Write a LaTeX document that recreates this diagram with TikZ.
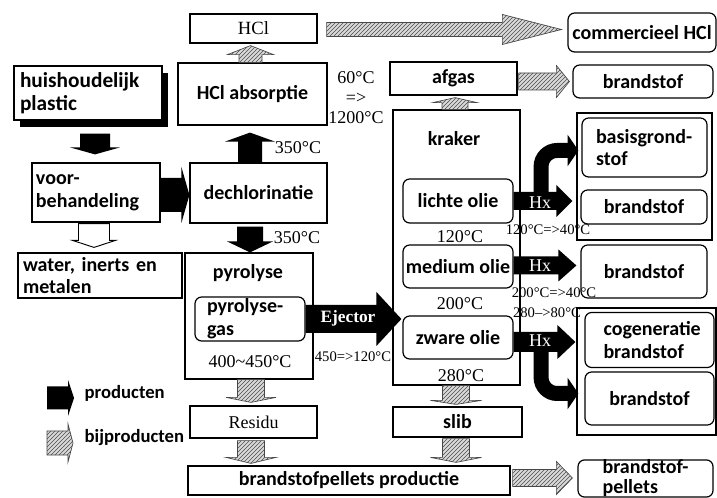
\documentclass[tikz,border=0pt]{standalone}
\usepackage{fontspec}
\setmainfont{Liberation Serif}
\setsansfont{Carlito}
\usetikzlibrary{calc,arrows.meta,patterns,shadows}

% blokpijlen: stijl, van, naar, halve schachtbreedte, halve kopbreedte, koplengte (px)
\newcommand{\pijlrechts}[6]{%
  \path[#1] let \p1=(#2), \p2=(#3) in
    (\x1,\y1+#4*0.75pt) -- (\x2-#6*0.75pt,\y1+#4*0.75pt) -- (\x2-#6*0.75pt,\y1+#5*0.75pt)
    -- (\x2,\y1) -- (\x2-#6*0.75pt,\y1-#5*0.75pt) -- (\x2-#6*0.75pt,\y1-#4*0.75pt)
    -- (\x1,\y1-#4*0.75pt) -- cycle;}
\newcommand{\pijlneer}[6]{%
  \path[#1] let \p1=(#2), \p2=(#3) in
    (\x1-#4*0.75pt,\y1) -- (\x1-#4*0.75pt,\y2+#6*0.75pt) -- (\x1-#5*0.75pt,\y2+#6*0.75pt)
    -- (\x1,\y2) -- (\x1+#5*0.75pt,\y2+#6*0.75pt) -- (\x1+#4*0.75pt,\y2+#6*0.75pt)
    -- (\x1+#4*0.75pt,\y1) -- cycle;}
\newcommand{\pijlop}[6]{%
  \path[#1] let \p1=(#2), \p2=(#3) in
    (\x1-#4*0.75pt,\y1) -- (\x1-#4*0.75pt,\y2-#6*0.75pt) -- (\x1-#5*0.75pt,\y2-#6*0.75pt)
    -- (\x1,\y2) -- (\x1+#5*0.75pt,\y2-#6*0.75pt) -- (\x1+#4*0.75pt,\y2-#6*0.75pt)
    -- (\x1+#4*0.75pt,\y1) -- cycle;}

\tikzset{
  blok/.style={draw, line width=0.9pt, inner sep=0pt},
  rblok/.style={blok, rounded corners=5pt},
  maat/.style 2 args={minimum width=#1*0.75pt, minimum height=#2*0.75pt},
  links/.style={align=left, text width=#1*0.75pt},
  vet/.style={font=\sffamily\bfseries\fontsize{15}{17}\selectfont},
  temp/.style={font=\fontsize{13.5}{15}\selectfont, inner sep=0pt},
  klein/.style={font=\fontsize{11}{12}\selectfont, inner sep=0pt},
  zwart/.style={fill=black},
  arcering/.style={draw=gray!55!black, line width=0.5pt, fill=gray!30,
    postaction={pattern=north east lines, pattern color=gray!60!black}},
  hol/.style={draw, line width=0.7pt, fill=white},
  bocht/.style={line width=11.25pt, rounded corners=12pt, -{Triangle[width=23pt,length=8pt]}},
  witlabel/.style={text=white, font=\fontsize{13.5}{15}\selectfont, inner sep=0pt}
}

\begin{document}
\begin{tikzpicture}[x=0.75pt, y=-0.75pt]
\useasboundingbox (0,0) rectangle (717,498);

% linker kolom
\node[blok, fill=white, maat={148}{54}, links=136, font=\sffamily\bfseries\fontsize{16}{17}\selectfont,
  drop shadow={shadow xshift=4.5pt, shadow yshift=-5pt, fill=black, opacity=1}] (huish) at (88,93) {huishoudelijk\\plastic};
\node[blok, maat={128}{59}, links=120, vet] (voor) at (96,192.5) {voor-\\behandeling};
\node[blok, maat={164}{45}, links=154, vet] (water) at (100,275.5) {water, inerts en\\metalen};

% middelste kolom
\node[blok, maat={127}{29}, font=\fontsize{14}{16}\selectfont] (hcl) at (253.5,28.5) {HCl};
\node[blok, maat={149}{62}, vet] (hclabs) at (252.5,94) {HCl absorptie};
\node[blok, maat={137}{60}, vet] (dechl) at (258.5,193) {dechlorinatie};
\node[blok, maat={128}{126}] (pyro) at (249,316) {};
\node[vet] (pyrotitel) at (248,273) {pyrolyse};
\node[rblok, maat={110}{44}, links=86, vet] (pgas) at (250,319) {pyrolyse-\\gas};
\node[blok, maat={127}{32}, font=\fontsize{13.5}{15}\selectfont] (residu) at (253.5,422) {Residu};
\node[blok, maat={322}{29}, vet] (pellets) at (349,480.5) {brandstofpellets productie};

\node[temp] (t350a) at (298,148) {350°C};
\node[temp] (t350b) at (297,238) {350°C};
\node[temp] (t400) at (250,362) {400\textasciitilde450°C};
\node[temp, align=center] (t60) at (356,98) {60°C\\=>\\1200°C};
\node[klein] (t450) at (353,357) {450=>120°C};

% kraker
\node[blok, maat={127}{33}, vet] (afgas) at (453.5,78.5) {afgas};
\node[blok, maat={127}{275}] (kraker) at (456.5,247.5) {};
\node[vet] (krakertitel) at (454,139) {kraker};
\node[rblok, maat={110}{44}, vet] (lichte) at (458,201) {lichte olie};
\node[rblok, maat={110}{43}, vet] (medium) at (458,266.5) {medium olie};
\node[rblok, maat={110}{43}, vet] (zware) at (458,337.5) {zware olie};
\node[blok, maat={129}{30}, vet] (slib) at (457.5,422) {slib};

\node[temp] (t120) at (460,237) {120°C};
\node[temp] (t200) at (460,304) {200°C};
\node[temp] (t280) at (461,376) {280°C};
\node[klein] (hx1temp) at (548,230) {120°C=>40°C};
\node[klein] (hx2temp) at (554,293) {200°C=>40°C};
\node[klein] (hx3temp) at (547,313) {280–>80°C};

% rechter kolom
\node[rblok, maat={148}{39}, vet] (commHCl) at (642,32.5) {commercieel HCl};
\node[rblok, maat={140}{33}, vet] (brandstof1) at (643,81.5) {brandstof};
\node[blok, maat={135}{127}] (groep1) at (644.5,176.5) {};
\node[rblok, maat={125}{59}, links=97, vet] (basis) at (644.5,147.5) {basisgrond-\\stof};
\node[rblok, maat={126}{34}, vet] (brandstof2) at (644,207) {brandstof};
\node[rblok, maat={126}{53}, vet] (brandstof3) at (644,271.5) {brandstof};
\node[blok, maat={139}{127}] (groep2) at (646.5,371.5) {};
\node[rblok, maat={129}{55}, links=92, vet] (cogen) at (649.5,340) {cogeneratie\\brandstof};
\node[rblok, maat={129}{53}, vet] (brandstof4) at (649.5,398.5) {brandstof};
\node[rblok, maat={135}{37}, align=left, font=\sffamily\bfseries\fontsize{15}{15}\selectfont] (bpellets) at (645.5,478.5) {brandstof-\\pellets};

% producten (zwart)
\pijlneer{zwart}{$(huish.south)+(7,13)$}{$(voor.north)+(-1,-8)$}{15}{25}{7}
\pijlrechts{zwart}{$(voor.east)+(0,2.5)$}{dechl.west}{17}{28}{8}
\pijlop{zwart}{$(dechl.north)+(-8.5,0)$}{$(hclabs.south)+(0,7)$}{12}{25}{9}
\pijlneer{zwart}{$(dechl.south)+(-8.5,3)$}{pyro.north}{13}{23}{11}
\pijlrechts{zwart}{pgas.east}{$(kraker.west)+(9,0)$}{14}{27}{25}
\pijlrechts{zwart}{lichte.east}{$(brandstof2.west)+(-8,0)$}{9}{16}{16}
\pijlrechts{zwart}{$(medium.east)+(0,-1)$}{$(brandstof3.west)+(-4,0)$}{9}{16}{18}
\pijlrechts{zwart}{$(zware.east)+(0,4.5)$}{$(groep2.west)+(-1,0)$}{10}{17}{18}
\draw[bocht] ($(lichte.east)+(27.5,0)$) |- ($(basis.west)+(-3,3)$);
\draw[bocht] ($(zware.east)+(27.5,4.5)$) |- ($(brandstof4.west)+(-6,-5)$);

% bijproducten (gearceerd)
\pijlop{arcering}{$(hclabs.north)+(-2,0)$}{$(hcl.south)+(0,2)$}{11.5}{23}{9}
\pijlrechts{arcering}{$(hcl.east)+(9,1)$}{$(commHCl.west)+(-6,0)$}{7}{15}{59}
\pijlop{arcering}{$(kraker.north)+(-1.5,0)$}{$(afgas.south)+(0,2)$}{13}{22}{5}
\pijlrechts{arcering}{$(afgas.east)+(1,3)$}{$(brandstof1.west)+(-3,0)$}{8.5}{16}{13}
\pijlneer{arcering}{$(pyro.south)+(2,0)$}{$(residu.north)+(0,-3)$}{13.5}{25}{5}
\pijlneer{arcering}{$(residu.south)+(-2.5,2)$}{$(pellets.north)+(0,-2)$}{13.5}{25}{6}
\pijlneer{arcering}{$(kraker.south)+(-0.5,0)$}{$(slib.north)+(0,-2)$}{13.5}{25.5}{4}
\pijlneer{arcering}{$(slib.south)+(-1.5,1)$}{$(pellets.north)+(0,-3)$}{13.5}{25.5}{5}
\pijlrechts{arcering}{$(pellets.east)+(2,-2.5)$}{$(bpellets.west)+(-5,0)$}{8.5}{16.5}{16}

% afval
\pijlneer{hol}{$(voor.south)+(-2,1)$}{$(water.north)+(0,-5)$}{15.5}{21.5}{7}

% witte teksten op de pijlen
\node[witlabel, font=\bfseries\fontsize{13}{15}\selectfont] (ejector) at (348,318) {Ejector};
\node[witlabel] (hx1) at (540,203) {Hx};
\node[witlabel] (hx2) at (540,266) {Hx};
\node[witlabel] (hx3) at (540,341) {Hx};

% legenda
\coordinate (lzwart1) at (47,398);
\coordinate (lzwart2) at (74,398);
\coordinate (larc1) at (47,443);
\coordinate (larc2) at (73,443);
\pijlrechts{zwart}{lzwart1}{lzwart2}{11.5}{18}{6}
\pijlrechts{arcering}{larc1}{larc2}{12}{19}{5}
\node[vet, font=\sffamily\bfseries\fontsize{14}{17}\selectfont, anchor=west] (lprod) at (80,393) {producten};
\node[vet, font=\sffamily\bfseries\fontsize{14}{17}\selectfont, anchor=west] (lbij) at (80,438) {bijproducten};
\end{tikzpicture}
\end{document}
